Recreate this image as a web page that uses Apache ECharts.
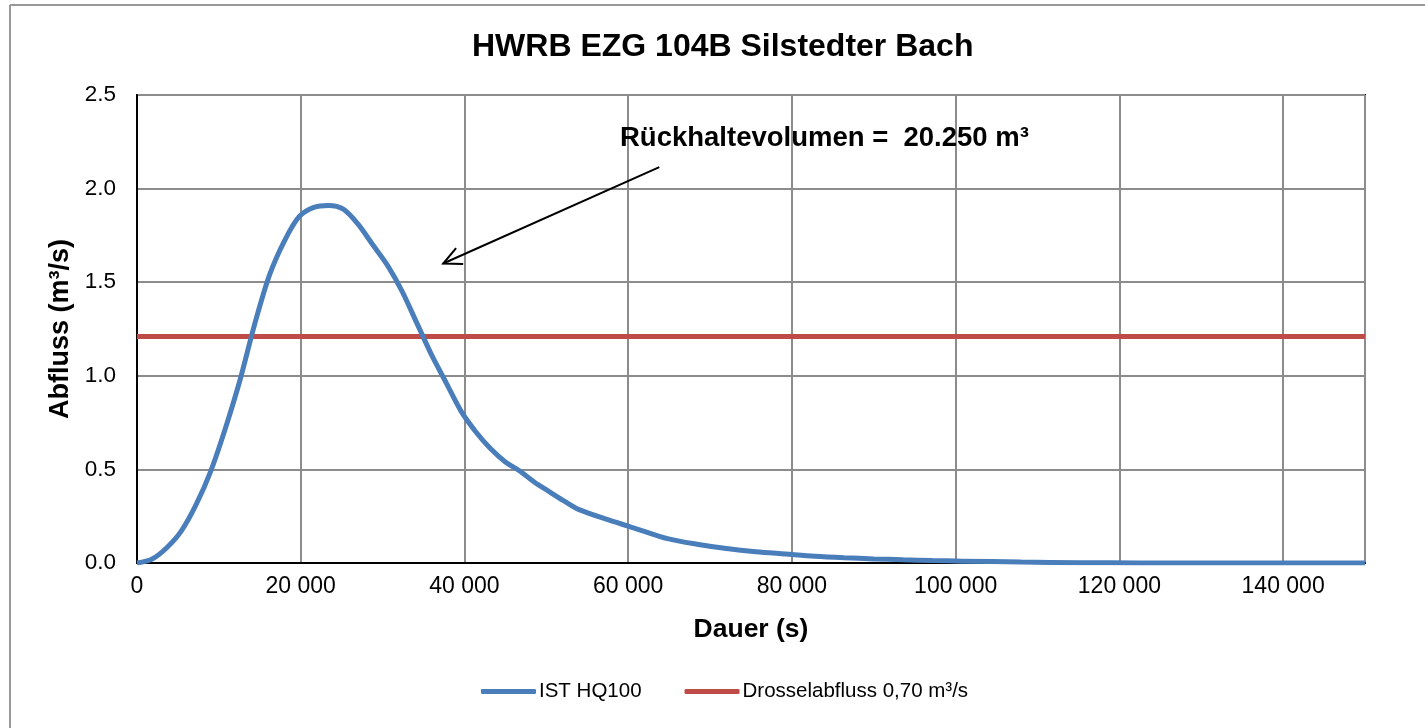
<!DOCTYPE html>
<html>
<head>
<meta charset="utf-8">
<script src="https://cdn.jsdelivr.net/npm/echarts@6/dist/echarts.min.js"></script>
<style>
  html, body { margin: 0; padding: 0; background: #fff; }
  #chart { width: 1425px; height: 728px; }
</style>
</head>
<body>
<div id="chart"></div>
<script>
// Dauer (s) / Abfluss (m³/s)
var dauer = [0, 1800, 3600, 5400, 7200, 9000, 10800, 12600, 14400, 16200, 18000, 19800, 21600, 23400,
  25200, 27000, 28800, 30600, 32400, 34200, 36000, 37800, 39600, 41400, 43200, 45000, 46800, 48600,
  50400, 52200, 54000, 57600, 61200, 64800, 68400, 72000, 75600, 79200, 82800, 86400, 90000, 93600,
  97200, 100800, 108000, 115200, 122400, 150000];
var abfluss = [0, 0.02, 0.08, 0.17, 0.31, 0.49, 0.72, 0.98, 1.28, 1.54, 1.72, 1.85, 1.90, 1.91,
  1.89, 1.81, 1.70, 1.59, 1.45, 1.28, 1.11, 0.96, 0.81, 0.70, 0.61, 0.54, 0.49, 0.43,
  0.38, 0.33, 0.285, 0.23, 0.18, 0.13, 0.10, 0.077, 0.06, 0.048, 0.036, 0.028, 0.022, 0.017,
  0.013, 0.010, 0.005, 0.002, 0, 0];
var drosselX = [0, 150000];
var drosselY = [1.21, 1.21];
var arrowFrom = [63800, 2.115];
var arrowTo = [37400, 1.60];

var chart = echarts.init(document.getElementById('chart'));
var font = 'Liberation Sans, Arial, sans-serif';

function pairs(xs, ys) {
  return xs.map(function (x, i) { return [x, ys[i]]; });
}

chart.setOption({
  animation: false,
  textStyle: { fontFamily: font },
  title: {
    text: 'HWRB EZG 104B Silstedter Bach',
    left: 467,
    top: 26,
    textStyle: { fontSize: 32, fontWeight: 'bold', color: '#000', fontFamily: font }
  },
  grid: { left: 137, right: 60, top: 95, bottom: 165, show: true, borderColor: '#000', borderWidth: 2 },
  legend: {
    bottom: 21,
    left: 476,
    itemGap: 43,
    itemWidth: 55,
    itemHeight: 5,
    icon: 'roundRect',
    textStyle: { fontSize: 20.5, color: '#000', fontFamily: font, padding: [0, 0, 0, -2] },
    data: ['IST HQ100', 'Drosselabfluss 0,70 m³/s']
  },
  xAxis: {
    type: 'value',
    min: 0,
    max: 150000,
    interval: 20000,
    name: 'Dauer (s)',
    nameLocation: 'middle',
    nameGap: 53,
    nameTextStyle: { fontSize: 26.5, fontWeight: 'bold', color: '#000', fontFamily: font },
    axisLine: { lineStyle: { color: '#000', width: 2 } },
    axisTick: { show: false },
    axisLabel: {
      fontSize: 23, color: '#000', margin: 12, showMaxLabel: false,
      formatter: function (v) { return String(v).replace(/\B(?=(\d{3})+(?!\d))/g, ' '); }
    },
    splitLine: { lineStyle: { color: '#8c8c8c', width: 2 } }
  },
  yAxis: {
    type: 'value',
    min: 0,
    max: 2.5,
    interval: 0.5,
    name: 'Abfluss (m³/s)',
    nameLocation: 'middle',
    nameGap: 62,
    nameTextStyle: { fontSize: 27, fontWeight: 'bold', color: '#000', fontFamily: font },
    axisLine: { show: true, lineStyle: { color: '#000', width: 2 } },
    axisTick: { show: false },
    axisLabel: { fontSize: 22.5, color: '#000', margin: 21, formatter: function (v) { return v.toFixed(1); } },
    splitLine: { lineStyle: { color: '#8c8c8c', width: 2 } }
  },
  series: [
    {
      name: 'IST HQ100',
      type: 'line',
      smooth: 0.3,
      showSymbol: false,
      color: '#4a7ebb',
      lineStyle: { width: 5, color: '#4a7ebb' },
      data: pairs(dauer, abfluss),
      z: 3
    },
    {
      name: 'Drosselabfluss 0,70 m³/s',
      type: 'line',
      showSymbol: false,
      color: '#be4b48',
      lineStyle: { width: 5, color: '#be4b48' },
      data: pairs(drosselX, drosselY),
      z: 2
    }
  ]
});

// Pfeil + Beschriftung aus Datenkoordinaten
var p0 = chart.convertToPixel({ gridIndex: 0 }, arrowFrom);
var p1 = chart.convertToPixel({ gridIndex: 0 }, arrowTo);
var ang = Math.atan2(p0[1] - p1[1], p0[0] - p1[0]);
var hl = 20, ha = 0.45;
var h1 = [p1[0] + hl * Math.cos(ang + ha), p1[1] + hl * Math.sin(ang + ha)];
var h2 = [p1[0] + hl * Math.cos(ang - ha), p1[1] + hl * Math.sin(ang - ha)];

chart.setOption({
  graphic: [
    { type: 'line', shape: { x1: 10, y1: 5, x2: 1425, y2: 5 }, style: { stroke: '#999', lineWidth: 2 } },
    { type: 'line', shape: { x1: 10, y1: 5, x2: 10, y2: 728 }, style: { stroke: '#999', lineWidth: 2 } },
    { type: 'line', shape: { x1: p0[0], y1: p0[1], x2: p1[0], y2: p1[1] }, style: { stroke: '#000', lineWidth: 2 }, z: 10 },
    { type: 'polyline', shape: { points: [h1, p1, h2] }, style: { stroke: '#000', lineWidth: 2, fill: null }, z: 10 },
    {
      type: 'text', left: 620, top: 124, z: 10,
      style: { text: 'Rückhaltevolumen =  20.250 m³', fontSize: 27.5, fontWeight: 'bold', fill: '#000', fontFamily: font }
    }
  ]
});
</script>
</body>
</html>
